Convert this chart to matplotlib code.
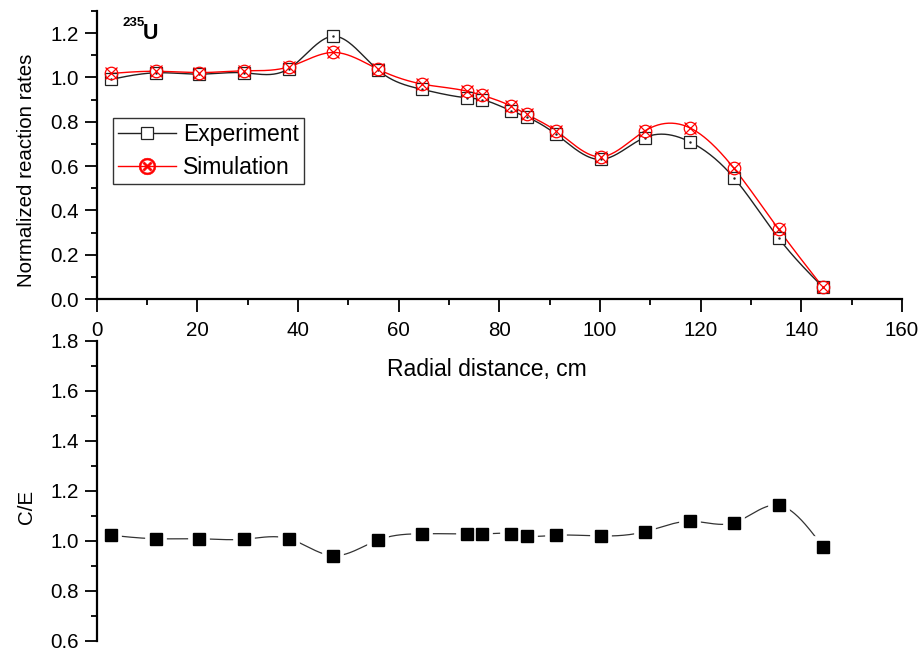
import matplotlib
matplotlib.use("Agg")
import matplotlib.pyplot as plt
from matplotlib.ticker import MultipleLocator
import numpy as np

plt.rcParams["font.family"] = ["Liberation Sans", "DejaVu Sans"]

# radial positions of the measurement points, cm
radius = [2.8, 11.7, 20.4, 29.3, 38.2, 47.0, 55.9, 64.7, 73.6, 76.5,
          82.4, 85.4, 91.3, 100.1, 108.9, 117.8, 126.6, 135.5, 144.3]

# normalized 235U reaction rates
experiment = [0.991, 1.021, 1.015, 1.021, 1.040, 1.186, 1.033, 0.946, 0.908, 0.900,
              0.849, 0.822, 0.743, 0.630, 0.729, 0.710, 0.547, 0.274, 0.053]
simulation = [1.018, 1.028, 1.022, 1.030, 1.048, 1.113, 1.037, 0.970, 0.938, 0.920,
              0.870, 0.834, 0.758, 0.642, 0.759, 0.773, 0.590, 0.314, 0.053]

# calculation / experiment ratio
c_over_e = [1.023, 1.009, 1.009, 1.007, 1.009, 0.941, 1.004, 1.029, 1.028, 1.028,
            1.029, 1.020, 1.023, 1.020, 1.037, 1.079, 1.073, 1.143, 0.976]


def natural_spline(x, y, n=600):
    # plain natural cubic spline through the points, for the smooth connecting lines
    x = np.asarray(x, float)
    y = np.asarray(y, float)
    m = len(x)
    h = np.diff(x)
    A = np.zeros((m, m))
    b = np.zeros(m)
    A[0, 0] = A[-1, -1] = 1.0
    for i in range(1, m - 1):
        A[i, i - 1] = h[i - 1]
        A[i, i] = 2 * (h[i - 1] + h[i])
        A[i, i + 1] = h[i]
        b[i] = 3 * ((y[i + 1] - y[i]) / h[i] - (y[i] - y[i - 1]) / h[i - 1])
    c = np.linalg.solve(A, b)
    bb = (y[1:] - y[:-1]) / h - h * (2 * c[:-1] + c[1:]) / 3
    d = (c[1:] - c[:-1]) / (3 * h)
    xs = np.linspace(x[0], x[-1], n)
    k = np.clip(np.searchsorted(x, xs) - 1, 0, m - 2)
    t = xs - x[k]
    ys = y[k] + bb[k] * t + c[k] * t ** 2 + d[k] * t ** 3
    return xs, ys


fig = plt.figure(figsize=(9.23, 6.51), dpi=100)
ax = fig.add_axes([0.1048, 0.5407, 0.8725, 0.4424])
ax2 = fig.add_axes([0.1048, 0.0154, 0.8725, 0.4608])

# --- reaction rates ---
xs, ys = natural_spline(radius, experiment)
ax.plot(xs, ys, color="#222222", lw=1.0, zorder=2)
xs, ys = natural_spline(radius, simulation)
ax.plot(xs, ys, color="red", lw=1.0, zorder=2)

ax.plot(radius, experiment, ls="none", marker="s", ms=8.6, mfc="white",
        mec="#222222", mew=0.9, zorder=3)
ax.plot(radius, experiment, ls="none", marker=".", ms=1.5, color="#222222", zorder=3)
ax.plot(radius, simulation, ls="none", marker="o", ms=9, mfc="none",
        mec="red", mew=0.9, zorder=4)
ax.plot(radius, simulation, ls="none", marker="x", ms=8, color="red", mew=0.9, zorder=4)

# legend handles
h_exp, = ax.plot([], [], color="#222222", lw=1.0, marker="s", ms=8.6, mfc="white",
                 mec="#222222", mew=0.9)
h_sim, = ax.plot([], [], color="red", lw=1.0, marker="$\\otimes$", ms=12, mew=0.4)
leg = ax.legend([h_exp, h_sim], ["Experiment", "Simulation"], loc="upper left",
                bbox_to_anchor=(0.020, 0.627), borderaxespad=0, fontsize=16.5,
                handlelength=2.55, handletextpad=0.3, labelspacing=0.4,
                borderpad=0.22, fancybox=False, framealpha=1)
leg.get_frame().set_edgecolor("#333333")
leg.get_frame().set_linewidth(1.0)

ax.set_xlim(0, 160)
ax.set_ylim(0, 1.3)
ax.xaxis.set_major_locator(MultipleLocator(20))
ax.xaxis.set_minor_locator(MultipleLocator(10))
ax.yaxis.set_major_locator(MultipleLocator(0.2))
ax.yaxis.set_minor_locator(MultipleLocator(0.1))
ax.yaxis.set_major_formatter(plt.FormatStrFormatter("%.1f"))
ax.set_ylabel("Normalized reaction rates", fontsize=14.8)
ax.yaxis.set_label_coords(-0.076, 0.448)
for s in ["top", "right"]:
    ax.spines[s].set_visible(False)

ax.text(0.032, 0.957, "235", transform=ax.transAxes, fontsize=9.5,
        fontweight="bold", ha="left", va="center")
ax.text(0.0575, 0.922, "U", transform=ax.transAxes, fontsize=15.5,
        fontweight="bold", ha="left", va="center")

# --- C/E ratio ---
xs, ys = natural_spline(radius, c_over_e)
ax2.plot(xs, ys, color="#333333", lw=0.9, zorder=2)
ax2.plot(radius, c_over_e, ls="none", marker="s", ms=8.2, mfc="white",
         mec="white", mew=7, zorder=3)
ax2.plot(radius, c_over_e, ls="none", marker="s", ms=8.2, color="black", zorder=4)

ax2.set_xlim(0, 160)
ax2.set_ylim(0.6, 1.8)
ax2.yaxis.set_major_locator(MultipleLocator(0.2))
ax2.yaxis.set_minor_locator(MultipleLocator(0.1))
ax2.yaxis.set_major_formatter(plt.FormatStrFormatter("%.1f"))
ax2.set_xticks([])
ax2.set_ylabel("C/E", fontsize=14.8)
ax2.yaxis.set_label_coords(-0.076, 0.447)
for s in ["top", "right", "bottom"]:
    ax2.spines[s].set_visible(False)

ax2.text(0.485, 0.904, "Radial distance, cm", transform=ax2.transAxes,
         fontsize=16.5, ha="center", va="center")

for a in (ax, ax2):
    for s in a.spines.values():
        s.set_linewidth(1.6)
    a.tick_params(which="major", direction="out", length=9, width=1.3,
                  labelsize=14.8, pad=4)
    a.tick_params(which="minor", direction="out", length=4.5, width=1.3)
    a.patch.set_alpha(0)
ax.tick_params(axis="x", which="major", pad=7)

fig.savefig("out.png", dpi=100)
